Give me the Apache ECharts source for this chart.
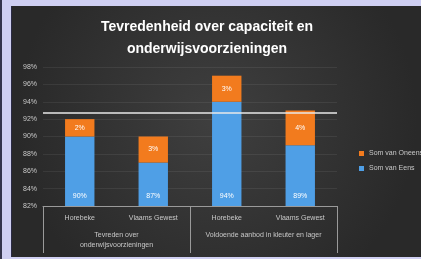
<!DOCTYPE html>
<html>
<head>
<meta charset="utf-8">
<script src="https://cdn.jsdelivr.net/npm/echarts@6/dist/echarts.min.js"></script>
<style>
  html, body { margin: 0; padding: 0; }
  body { width: 421px; height: 259px; background: #cfcff2; position: relative; overflow: hidden; }
  #edge { position: absolute; left: 0; top: 0; width: 2px; height: 259px; background: #34344c; }
  #chart { position: absolute; left: 11px; top: 6px; width: 410px; height: 251px; border-left: 1px solid #2a2a44; box-sizing: border-box; }
</style>
</head>
<body>
<div id="edge"></div>
<div id="chart"></div>
<script>
var categories = ['Horebeke', 'Vlaams Gewest', 'Horebeke', 'Vlaams Gewest'];
var groups = ['Tevreden over\nonderwijsvoorzieningen', 'Voldoende aanbod in kleuter en lager'];
var eens = [90, 87, 94, 89];
var oneens = [2, 3, 3, 4];
var target = 92.7;

var chart = echarts.init(document.getElementById('chart'));
var option = {
    backgroundColor: {
        type: 'radial', x: 0.5, y: 0.45, r: 0.8,
        colorStops: [{ offset: 0, color: '#3f3f3f' }, { offset: 1, color: '#292929' }]
    },
    title: {
        text: 'Tevredenheid over capaciteit en\nonderwijsvoorzieningen',
        left: 190,
        top: 5,
        textAlign: 'center',
        textStyle: {
            color: '#ffffff',
            fontFamily: 'Liberation Sans',
            fontSize: 14,
            fontWeight: 'bold',
            lineHeight: 22
        }
    },
    legend: {
        data: ['Som van Oneens', 'Som van Eens'],
        orient: 'vertical',
        left: 342,
        top: 139,
        itemWidth: 5,
        itemHeight: 5,
        itemGap: 8,
        icon: 'rect',
        textStyle: { color: '#c8c8c8', fontSize: 7, fontFamily: 'Liberation Sans' }
    },
    grid: { left: 31, right: 84, top: 61, bottom: 51 },
    xAxis: [{
        type: 'category',
        data: categories,
        axisLine: { lineStyle: { color: '#9a9a9a' } },
        axisTick: { show: false },
        axisLabel: { color: '#c8c8c8', fontSize: 7, margin: 9, fontFamily: 'Liberation Sans' }
    }, {
        type: 'category',
        data: groups,
        position: 'bottom',
        axisLine: { show: false },
        axisTick: { show: true, interval: 0, length: 47, lineStyle: { color: '#9a9a9a' } },
        axisLabel: { interval: 0, color: '#c8c8c8', fontSize: 7, margin: 24, lineHeight: 10, fontFamily: 'Liberation Sans' },
        splitLine: { show: false }
    }],
    yAxis: {
        type: 'value',
        min: 82,
        max: 98,
        interval: 2,
        axisLine: { show: false },
        axisTick: { show: false },
        axisLabel: { formatter: '{value}%', color: '#c8c8c8', fontSize: 7, margin: 6, fontFamily: 'Liberation Sans' },
        splitLine: { lineStyle: { color: 'rgba(255,255,255,0.07)' } }
    },
    series: [{
        name: 'Som van Eens',
        type: 'bar',
        stack: 'tot',
        barWidth: '40%',
        data: eens,
        itemStyle: { color: '#4f9fe6' },
        label: {
            show: true, position: 'insideBottom', distance: 6,
            formatter: '{c}%', color: '#ffffff', fontSize: 7, fontFamily: 'Liberation Sans'
        },
        markLine: {
            symbol: 'none',
            silent: true,
            label: { show: false },
            lineStyle: { color: '#e8e8e8', type: 'solid', width: 1.5 },
            data: [{ yAxis: target }]
        }
    }, {
        name: 'Som van Oneens',
        type: 'bar',
        stack: 'tot',
        barWidth: '40%',
        data: oneens,
        itemStyle: { color: '#f27b1e' },
        label: {
            show: true, position: 'inside',
            formatter: '{c}%', color: '#ffffff', fontSize: 7, fontFamily: 'Liberation Sans'
        }
    }]
};
chart.setOption(option);
</script>
</body>
</html>
